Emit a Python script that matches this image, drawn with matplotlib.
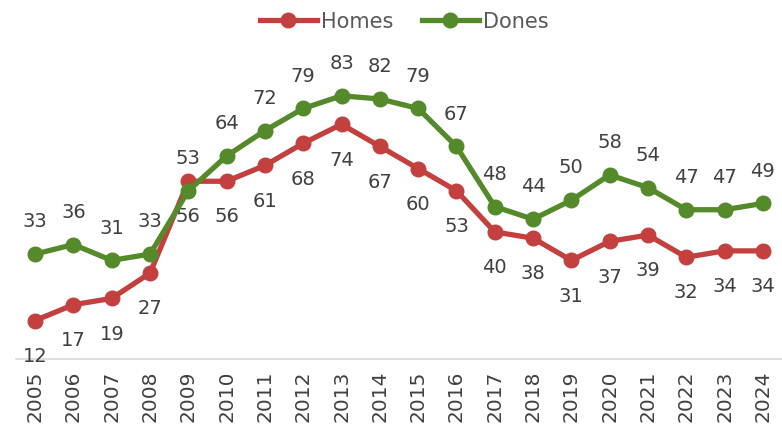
import matplotlib
matplotlib.use("Agg")
import matplotlib.pyplot as plt
from matplotlib.lines import Line2D

years = ["2005", "2006", "2007", "2008", "2009", "2010", "2011", "2012", "2013", "2014",
         "2015", "2016", "2017", "2018", "2019", "2020", "2021", "2022", "2023", "2024"]
homes = [12, 17, 19, 27, 56, 56, 61, 68, 74, 67, 60, 53, 40, 38, 31, 37, 39, 32, 34, 34]
dones = [33, 36, 31, 33, 53, 64, 72, 79, 83, 82, 79, 67, 48, 44, 50, 58, 54, 47, 47, 49]

red = "#C3403F"
green = "#558A2B"
txt = "#404040"

fig = plt.figure(figsize=(7.82, 4.27), dpi=100)
ax = fig.add_axes([16/782, 1 - 359.5/427, 1 - 16/782, (359.5 - 43)/427])

x = list(range(len(years)))
ax.plot(x, homes, color=red, lw=3.8, marker="o", ms=10.5, label="Homes", zorder=3, solid_capstyle="round")
ax.plot(x, dones, color=green, lw=3.8, marker="o", ms=10.5, label="Dones", zorder=4, solid_capstyle="round")

for xi, v in zip(x, homes):
    ax.annotate(str(v), (xi, v), xytext=(0, -25), textcoords="offset points",
                ha="center", va="center", fontsize=14, color=txt, clip_on=False)
for xi, v in zip(x, dones):
    ax.annotate(str(v), (xi, v), xytext=(0, 24), textcoords="offset points",
                ha="center", va="center", fontsize=14, color=txt, clip_on=False)

ax.set_xlim(-0.5, len(years) - 0.5)
ax.set_ylim(0, 100)
ax.set_xticks(x)
ax.set_xticklabels(years, rotation=90, fontsize=14.5, color=txt)
ax.tick_params(axis="x", length=0, pad=8)
ax.set_yticks([])
for s in ["top", "right", "left"]:
    ax.spines[s].set_visible(False)
ax.spines["bottom"].set_color("#D9D9D9")
ax.spines["bottom"].set_linewidth(1.2)

handles = [Line2D([0], [0], color=red, lw=3.8, marker="o", ms=10.5),
           Line2D([0], [0], color=green, lw=3.8, marker="o", ms=10.5)]
leg = fig.legend(handles, ["Homes", "Dones"], loc="center", bbox_to_anchor=(0.517, 1 - 22/427),
                 ncol=2, frameon=False, fontsize=15, handlelength=2.7, columnspacing=1.4,
                 handletextpad=0.2)
for t in leg.get_texts():
    t.set_color("#595959")

fig.savefig("out.png", dpi=100)
